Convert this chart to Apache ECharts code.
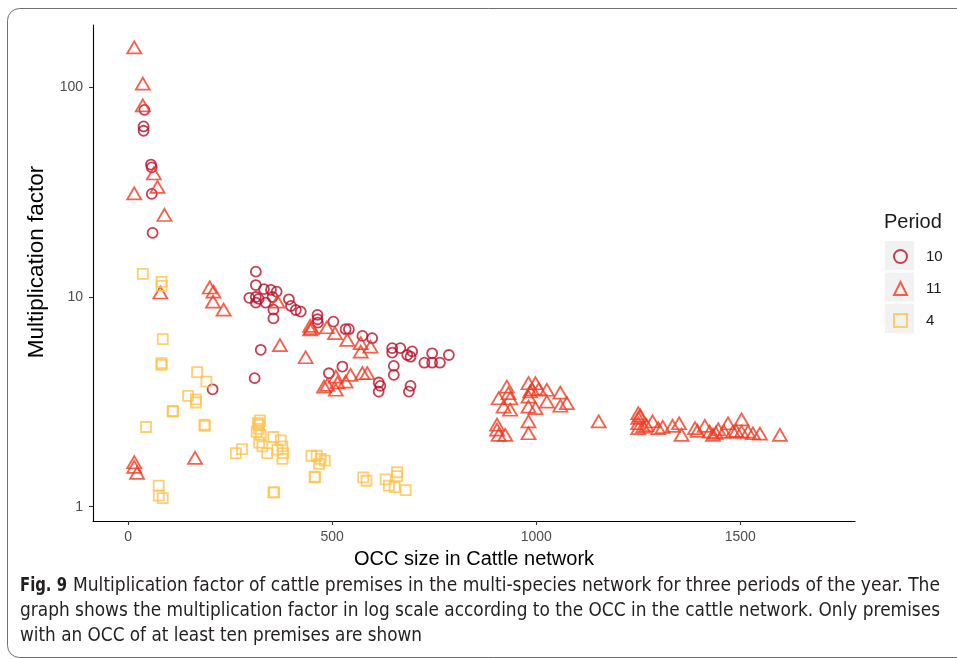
<!DOCTYPE html>
<html>
<head>
<meta charset="utf-8">
<script src="https://cdn.jsdelivr.net/npm/echarts@6/dist/echarts.min.js"></script>
<style>
html,body{margin:0;padding:0;background:#fff;}
#chart{width:957px;height:659px;}
</style>
</head>
<body>
<div id="chart"></div>
<script>
// ---- data ----
const xTicks = [0, 500, 1000, 1500];
const yTicks = [1, 10, 100];
const periodNames = ['10', '11', '4'];

// Period 10 : [OCC size, multiplication factor]
const period10 = [
  [40,78],[38,65],[38,62],[56,42.8],[58,41.5],[58,31],[60,20.2],
  [313,13.2],[313,11.4],[297,9.9],[313,10.0],[313,9.4],[320,9.8],[333,10.9],[337,9.4],
  [350,10.8],[364,10.6],[356,8.7],[356,7.9],[354,10.0],[394,9.75],[399,9.06],[411,8.67],
  [423,8.51],[464,8.21],[464,7.83],[465,7.54],[503,7.63],[533,7.02],[541,7.02],[574,6.52],
  [598,6.36],[647,5.7],[647,5.43],[667,5.7],[684,5.29],[696,5.5],[692,5.19],[726,4.86],
  [745,4.86],[745,5.39],[764,4.86],[786,5.29],[325,5.6],[310,4.1],[207,3.63],[525,4.66],
  [492,4.33],[614,3.91],[618,3.77],[614,3.54],[651,4.69],[651,4.25],[692,3.77],[688,3.54]
];

// Period 11
const period11 = [
  [15,155],[36,104],[36,82],[63,38.8],[72,33.5],[15,31.2],[89,24.6],[79,10.5],
  [200,11.1],[209,10.6],[208,9.5],[234,8.7],[366,9.5],[372,5.9],[164,1.71],
  [15,1.63],[15,1.55],[22,1.45],
  [446,7.28],[446,7.0],[450,7.1],[487,7.17],[507,6.72],[537,6.24],[570,6.02],[570,5.49],
  [594,5.8],[435,5.16],[488,3.81],[480,3.74],[509,4.17],[509,3.61],[513,3.91],[533,3.95],
  [545,4.25],[574,4.33],[586,4.33],
  [928,3.74],[932,3.48],[908,3.29],[936,3.29],[981,3.88],[998,3.88],[1006,3.64],[985,3.55],
  [990,3.62],[981,3.35],[1026,3.61],[1059,3.5],[1026,3.17],[1075,3.12],[1059,3.03],[920,3.0],
  [936,2.9],[981,3.0],[998,2.95],[904,2.46],[904,2.33],[908,2.2],[924,2.2],[981,2.55],
  [981,2.24],[1153,2.55],
  [1250,2.79],[1250,2.65],[1250,2.5],[1250,2.37],[1255,2.72],[1262,2.41],[1285,2.55],
  [1299,2.37],[1334,2.43],[1350,2.5],[1356,2.2],[1389,2.37],[1413,2.43],[1425,2.28],
  [1433,2.2],[1446,2.34],[1470,2.5],[1503,2.61],[1482,2.28],[1503,2.28],[1519,2.28],
  [1531,2.24],[1548,2.23],[1597,2.2],[1395,2.3],[1440,2.25],[1460,2.28],[1310,2.4],
  [1270,2.45],[1490,2.3]
];

// Period 4
const period4 = [
  [36,12.9],[82,11.8],[82,11.3],[85,6.29],[82,4.83],[82,4.75],[169,4.38],[192,3.95],
  [147,3.38],[166,3.25],[166,3.14],[109,2.84],[110,2.86],[187,2.46],[188,2.43],[44,2.40],
  [75,1.26],[75,1.13],[85,1.10],[356,1.17],[264,1.80],[279,1.88],[323,2.58],[321,2.46],
  [315,2.28],[325,2.2],[321,2.02],[329,1.94],[341,1.80],[356,2.15],[374,2.07],[378,1.94],
  [380,1.80],[378,1.69],[366,1.87],[320,2.35],[318,2.5],[449,1.75],[462,1.75],[472,1.69],
  [482,1.66],[468,1.60],[457,1.39],[458,1.38],[358,1.17],[576,1.38],[584,1.33],[631,1.35],
  [659,1.46],[659,1.40],[639,1.26],[653,1.24],[680,1.20]
];

const captionBold = 'Fig. 9';
const captionLines = [
  'Multiplication factor of cattle premises in the multi-species network for three periods of the year. The',
  'graph shows the multiplication factor in log scale according to the OCC in the cattle network. Only premises',
  'with an OCC of at least ten premises are shown'
];

// ---- styling / layout ----
const colors = ['#B8102A', '#F03B20', '#FEC24F'];
const FONT = '"Liberation Sans", Arial, sans-serif';
const CAP_FONT_FAMILY = '"Liberation Sans Narrow", "DejaVu Sans Condensed", sans-serif';

function hollow(c) {
  return { color: 'rgba(255,255,255,0)', borderColor: c, borderWidth: 1.8 };
}

const measureCtx = document.createElement('canvas').getContext('2d');
function fitScale(text, font, target) {
  measureCtx.font = font;
  const w = measureCtx.measureText(text).width;
  return w > 0 ? target / w : 1;
}

const capFont = '19px ' + CAP_FONT_FAMILY;
const capBoldFont = 'bold 19px ' + CAP_FONT_FAMILY;
const capStarts = [73, 20, 20];
const capEnds = [940, 940, 422];
const capYs = [586, 611, 636];

const graphics = [];
// figure frame
graphics.push({
  type: 'rect', silent: true, z: 0,
  shape: { x: 7.5, y: 8.5, width: 1000, height: 649, r: [12, 0, 0, 12] },
  style: { fill: 'none', stroke: '#6f6f6f', lineWidth: 1 }
});
// legend key backgrounds
[241, 272.5, 304].forEach(function (yy) {
  graphics.push({
    type: 'rect', silent: true, z: 0,
    shape: { x: 885, y: yy, width: 29, height: 29 },
    style: { fill: '#F2F2F2' }
  });
});
// legend title
graphics.push({
  type: 'text', silent: true, z: 1, x: 884, y: 222,
  style: { text: 'Period', font: '20px ' + FONT, fill: '#1a1a1a', verticalAlign: 'middle', align: 'left' }
});
// caption
graphics.push({
  type: 'text', silent: true, z: 1, x: 20, y: capYs[0],
  scaleX: fitScale(captionBold, capBoldFont, 47),
  style: { text: captionBold, font: capBoldFont, fill: '#231F20', verticalAlign: 'middle', align: 'left' }
});
captionLines.forEach(function (t, i) {
  graphics.push({
    type: 'text', silent: true, z: 1, x: capStarts[i], y: capYs[i],
    scaleX: fitScale(t, capFont, capEnds[i] - capStarts[i]),
    style: { text: t, font: capFont, fill: '#231F20', verticalAlign: 'middle', align: 'left' }
  });
});

const chart = echarts.init(document.getElementById('chart'), null, { renderer: 'canvas' });
chart.setOption({
  animation: false,
  backgroundColor: '#fff',
  grid: { left: 93, right: 102, top: 25, bottom: 138 },
  xAxis: {
    type: 'value', min: -86, max: 1781,
    name: 'OCC size in Cattle network', nameLocation: 'middle', nameGap: 28,
    nameTextStyle: { fontSize: 20, color: '#000', fontFamily: FONT },
    axisLine: { show: true, onZero: false, lineStyle: { color: '#000', width: 1.1 } },
    axisTick: { show: true, length: 4, lineStyle: { color: '#333', width: 1.1 }, customValues: xTicks },
    axisLabel: { color: '#4D4D4D', fontSize: 14, margin: 9, fontFamily: FONT, customValues: xTicks,
      formatter: function (v) { return String(v); } },
    splitLine: { show: false }
  },
  yAxis: {
    type: 'log', logBase: 10, min: 0.855, max: 198,
    name: 'Multiplication factor', nameLocation: 'middle', nameGap: 39,
    nameTextStyle: { fontSize: 22.5, color: '#000', fontFamily: FONT, padding: [0, 0, 0, 22] },
    axisLine: { show: true, onZero: false, lineStyle: { color: '#000', width: 1.1 } },
    axisTick: { show: true, length: 4, lineStyle: { color: '#333', width: 1.1 }, customValues: yTicks },
    axisLabel: { color: '#4D4D4D', fontSize: 14, margin: 10, fontFamily: FONT, customValues: yTicks,
      formatter: function (v) { return String(Math.round(v)); } },
    splitLine: { show: false },
    minorTick: { show: false }
  },
  legend: {
    orient: 'vertical', left: 893, top: 249, padding: 0,
    itemWidth: 13, itemHeight: 13, itemGap: 17,
    data: periodNames, selectedMode: false, z: 5,
    textStyle: { fontSize: 15, color: '#1a1a1a', fontFamily: FONT, lineHeight: 13, padding: [0, 0, 0, 14] }
  },
  graphic: { elements: graphics },
  series: [
    { name: periodNames[0], type: 'scatter', data: period10, symbol: 'circle', symbolSize: 10,
      itemStyle: hollow(colors[0]), emphasis: { disabled: true } },
    { name: periodNames[1], type: 'scatter', data: period11, symbol: 'triangle', symbolSize: [14, 12],
      itemStyle: hollow(colors[1]), emphasis: { disabled: true } },
    { name: periodNames[2], type: 'scatter', data: period4, symbol: 'rect', symbolSize: 10,
      itemStyle: hollow(colors[2]), emphasis: { disabled: true } }
  ]
});
</script>
</body>
</html>
